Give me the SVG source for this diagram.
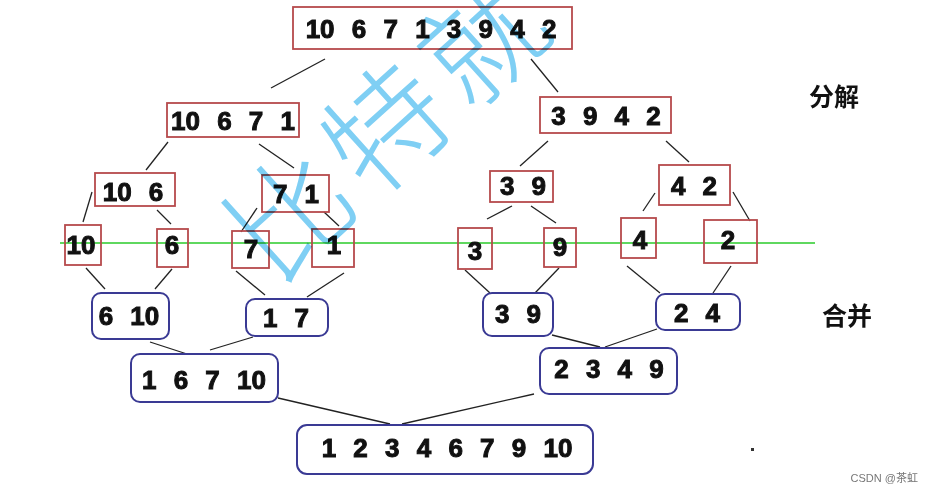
<svg xmlns="http://www.w3.org/2000/svg" width="932" height="486" viewBox="0 0 932 486">
<style>
.bg{fill:#fff}
.split rect{fill:none;stroke:#b64a4c;stroke-width:1.8}
.merge rect{fill:none;stroke:#3a3a94;stroke-width:2}
.num{font-family:"Liberation Sans",Arial,sans-serif;font-weight:bold;font-size:26px;text-anchor:middle;fill:#111;stroke:#111;stroke-width:1;word-spacing:10px}
.lab{font-family:"Noto Sans CJK SC",sans-serif;font-weight:bold;font-size:25px;text-anchor:middle;fill:#111}
#connectors line{stroke:#222;stroke-width:1.3}
.green{stroke:#5fd85f;stroke-width:2}
.wm{font-family:"Noto Sans CJK SC",serif;font-weight:300;font-size:120px;letter-spacing:10px;fill:#7fcff4;mix-blend-mode:multiply}
.credit{font-family:"Liberation Sans","Noto Sans CJK SC",sans-serif;font-size:11px;fill:#777;text-anchor:end}
</style>
<rect class="bg" x="0" y="0" width="932" height="486"/>
<line class="green" x1="60" y1="243" x2="815" y2="243"/>
<g id="connectors">
<line x1="325" y1="59" x2="271" y2="88"/>
<line x1="531" y1="59" x2="558" y2="92"/>
<line x1="168" y1="142" x2="146" y2="170"/>
<line x1="259" y1="144" x2="294" y2="168"/>
<line x1="548" y1="141" x2="520" y2="166"/>
<line x1="666" y1="141" x2="689" y2="162"/>
<line x1="92" y1="192" x2="83" y2="222"/>
<line x1="157" y1="210" x2="171" y2="224"/>
<line x1="257" y1="208" x2="241" y2="232"/>
<line x1="324" y1="212" x2="339" y2="226"/>
<line x1="512" y1="206" x2="487" y2="219"/>
<line x1="531" y1="206" x2="556" y2="223"/>
<line x1="655" y1="193" x2="643" y2="211"/>
<line x1="733" y1="192" x2="750" y2="221"/>
<line x1="86" y1="268" x2="105" y2="289"/>
<line x1="172" y1="269" x2="155" y2="289"/>
<line x1="236" y1="271" x2="265" y2="295"/>
<line x1="344" y1="273" x2="307" y2="297"/>
<line x1="465" y1="270" x2="490" y2="293"/>
<line x1="559" y1="268" x2="535" y2="293"/>
<line x1="627" y1="266" x2="660" y2="293"/>
<line x1="731" y1="266" x2="713" y2="293"/>
<line x1="150" y1="342" x2="187" y2="354"/>
<line x1="253" y1="337" x2="210" y2="350"/>
<line x1="552" y1="335" x2="600" y2="347"/>
<line x1="657" y1="329" x2="605" y2="347"/>
<line x1="278" y1="398" x2="390" y2="424"/>
<line x1="534" y1="394" x2="402" y2="424"/>
</g>
<g class="split">
<g id="n-all"><rect x="293" y="7" width="279" height="42"/><text class="num" x="431" y="38">10 6 7 1 3 9 4 2</text></g>
<g id="n-10671"><rect x="167" y="103" width="132" height="34"/><text class="num" x="233" y="130">10 6 7 1</text></g>
<g id="n-3942"><rect x="540" y="97" width="131" height="36"/><text class="num" x="606" y="125">3 9 4 2</text></g>
<g id="n-106"><rect x="95" y="173" width="80" height="33"/><text class="num" x="133" y="201">10 6</text></g>
<g id="n-71"><rect x="262" y="175" width="67" height="37"/><text class="num" x="296" y="203">7 1</text></g>
<g id="n-39a"><rect x="490" y="171" width="63" height="31"/><text class="num" x="523" y="195">3 9</text></g>
<g id="n-42"><rect x="659" y="165" width="71" height="40"/><text class="num" x="694" y="195">4 2</text></g>
<g id="n-10"><rect x="65" y="225" width="36" height="40"/><text class="num" x="81" y="254">10</text></g>
<g id="n-6"><rect x="157" y="229" width="31" height="38"/><text class="num" x="172" y="254">6</text></g>
<g id="n-7"><rect x="232" y="231" width="37" height="37"/><text class="num" x="251" y="258">7</text></g>
<g id="n-1"><rect x="312" y="229" width="42" height="38"/><text class="num" x="334" y="254">1</text></g>
<g id="n-3"><rect x="458" y="228" width="34" height="41"/><text class="num" x="475" y="260">3</text></g>
<g id="n-9"><rect x="544" y="228" width="32" height="39"/><text class="num" x="560" y="256">9</text></g>
<g id="n-4"><rect x="621" y="218" width="35" height="40"/><text class="num" x="640" y="249">4</text></g>
<g id="n-2"><rect x="704" y="220" width="53" height="43"/><text class="num" x="728" y="249">2</text></g>
</g>
<g class="merge">
<g id="m-610"><rect x="92" y="293" width="77" height="46" rx="9"/><text class="num" x="129" y="325">6 10</text></g>
<g id="m-17"><rect x="246" y="299" width="82" height="37" rx="9"/><text class="num" x="286" y="327">1 7</text></g>
<g id="m-16710"><rect x="131" y="354" width="147" height="48" rx="9"/><text class="num" x="204" y="389">1 6 7 10</text></g>
<g id="m-39"><rect x="483" y="293" width="70" height="43" rx="9"/><text class="num" x="518" y="323">3 9</text></g>
<g id="m-24"><rect x="656" y="294" width="84" height="36" rx="9"/><text class="num" x="697" y="322">2 4</text></g>
<g id="m-2349"><rect x="540" y="348" width="137" height="46" rx="9"/><text class="num" x="609" y="378">2 3 4 9</text></g>
<g id="m-all"><rect x="297" y="425" width="296" height="49" rx="10"/><text class="num" x="447" y="457">1 2 3 4 6 7 9 10</text></g>
</g>
<text class="lab" x="834" y="106">分解</text>
<text class="lab" x="847" y="325">合并</text>
<rect x="751" y="448" width="3" height="3" fill="#333"/>
<text class="credit" x="918" y="482">CSDN @茶虹</text>
<text class="wm" transform="translate(290,215) rotate(-42)" x="-60" y="44">比特就</text>
</svg>
